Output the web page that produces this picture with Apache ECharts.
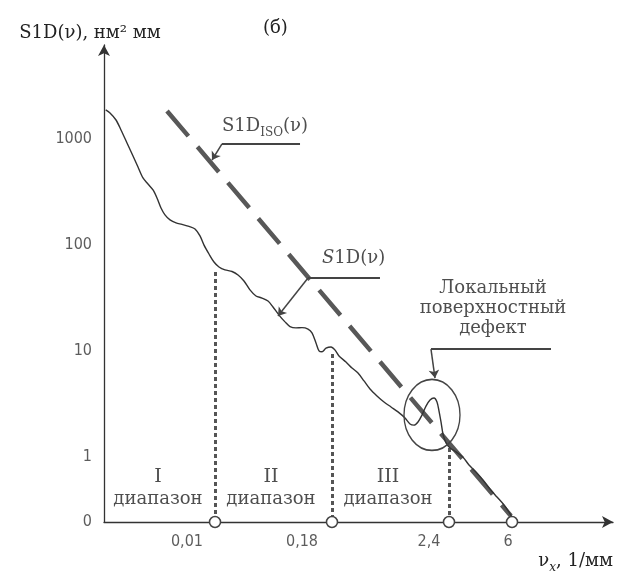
<!DOCTYPE html>
<html>
<head>
<meta charset="utf-8">
<script src="https://cdn.jsdelivr.net/npm/echarts@6/dist/echarts.min.js"></script>
<style>
  html, body { margin: 0; padding: 0; background: #fff; }
  #chart { width: 623px; height: 575px; }
</style>
</head>
<body>
<div id="chart"></div>
<script>
// schematic frequency axis (0..100 units), S1D on a log axis
const curveX = [0.33, 1.18, 2.36, 3.34, 4.52, 5.70, 6.68, 7.66, 8.64, 9.63,
  10.41, 11.20, 11.98, 12.97, 14.15, 15.32, 16.70, 17.88, 18.86, 19.65,
  20.63, 21.61, 22.59, 23.77, 25.15, 26.33, 27.50, 28.68, 29.86, 31.04,
  32.22, 33.20, 34.38, 35.56, 36.54, 37.72, 38.90, 40.08, 40.86, 41.65,
  42.24, 42.83, 43.61, 44.60, 45.38, 46.17, 47.54, 48.72, 49.90, 51.08,
  52.26, 53.63, 55.01, 56.39, 57.76, 59.14, 60.12, 60.90, 61.69, 62.48,
  63.26, 64.05, 64.83, 65.42, 65.82, 66.21, 66.60, 67.19, 67.98, 69.16,
  70.53, 71.71, 73.08, 74.46, 75.83, 77.21, 78.59, 79.57, 80.16]
const curveY = [1892, 1774, 1521, 1225, 923, 695, 547, 431, 378, 332,
  279, 224, 193, 173, 162, 157, 150, 142, 122, 100,
  82.4, 69.2, 62.1, 58.2, 56.3, 52.2, 45.8, 37.7, 33.0, 31.6,
  29.6, 26.0, 21.8, 18.8, 17.0, 16.5, 16.6, 16.1, 14.8, 11.9,
  10.0, 9.8, 10.6, 10.9, 10.2, 8.95, 7.85, 6.89, 6.18, 5.20,
  4.36, 3.75, 3.29, 2.95, 2.65, 2.32, 2.04, 1.99, 2.13, 2.48,
  3.01, 3.44, 3.59, 3.29, 2.70, 2.13, 1.64, 1.35, 1.21, 1.11,
  0.99, 0.835, 0.717, 0.602, 0.495, 0.416, 0.350, 0.300, 0.269]

const isoX = [12.38, 79.96]
const isoY = [1850, 0.275]

const yMin = 0.2415
const yMax = 7780
const yTickLabels = ['0', '1', '10', '100', '1000']
const yTickValues = [yMin, 1, 10, 100, 1000]

const xTickLabels = ['0,01', '0,18', '2,4', '6']
const xTickPos = [16.3, 38.9, 63.85, 79.4]

// range boundaries (circles on the axis) and the dotted lines above them
const boundaryX = [21.81, 44.79, 67.78, 80.16]
const dottedTop = [55.7, 9.35, 1.21]

const rangeNames = ['I', 'II', 'III']
const rangeX = [10.6, 32.8, 55.8]
const rangeY = 0.5

const serif = 'DejaVu Serif'
const narrow = '"Liberation Sans Narrow", "DejaVu Sans Condensed", "Liberation Sans", Arial, sans-serif'
const ink = '#222'
const grey = '#555'

const dom = echarts.init(document.getElementById('chart'))

const labelPoint = (pos, opts) => ({
  type: 'scatter',
  symbolSize: 0,
  silent: true,
  z: 10,
  data: pos,
  label: Object.assign({ show: true, color: ink, fontFamily: serif, fontSize: 18 }, opts)
})

const option = {
  animation: false,
  title: {
    text: '(б)',
    left: 258,
    top: 14,
    textStyle: { fontFamily: serif, fontSize: 18, fontWeight: 'normal', color: ink }
  },
  grid: { left: 104, right: 10, top: 45, bottom: 53 },
  xAxis: {
    type: 'value',
    min: 0,
    max: 100,
    name: '{a|ν}{s|x}{a|, 1/мм}',
    nameLocation: 'end',
    nameGap: 0,
    nameTextStyle: {
      align: 'right',
      verticalAlign: 'top',
      padding: [30, 0, 0, 0],
      rich: {
        a: { fontFamily: serif, fontSize: 18, color: ink, verticalAlign: 'bottom', padding: [0, 0, 4, 0] },
        s: { fontFamily: serif, fontSize: 12, fontStyle: 'italic', color: ink, verticalAlign: 'bottom' }
      }
    },
    axisLine: { lineStyle: { color: '#333', width: 1.3 }, symbol: ['none', 'arrow'], symbolSize: [9, 11] },
    axisTick: { show: false },
    axisLabel: { show: false },
    splitLine: { show: false }
  },
  yAxis: {
    type: 'log',
    logBase: 10,
    min: yMin,
    max: yMax,
    name: 'S1D(ν), нм² мм',
    nameLocation: 'end',
    nameGap: 3,
    nameTextStyle: { fontFamily: serif, fontSize: 18, color: ink, padding: [0, 28, 0, 0] },
    axisLine: { lineStyle: { color: '#333', width: 1.3 }, symbol: ['none', 'arrow'], symbolSize: [9, 11] },
    axisTick: { show: false },
    axisLabel: { show: false },
    splitLine: { show: false }
  },
  series: [
    {
      name: 'S1D',
      type: 'line',
      data: curveX.map((x, i) => [x, curveY[i]]),
      symbol: 'none',
      smooth: 0.3,
      lineStyle: { color: '#333', width: 1.4 },
      z: 4
    },
    {
      name: 'S1D ISO',
      type: 'line',
      data: isoX.map((x, i) => [x, isoY[i]]),
      symbol: 'none',
      lineStyle: { color: '#585858', width: 4.5, type: [33, 14], cap: 'butt' },
      z: 3
    },
    {
      type: 'lines',
      coordinateSystem: 'cartesian2d',
      silent: true,
      lineStyle: { color: grey, width: 3, type: [4, 3], opacity: 1 },
      data: dottedTop.map((top, i) => ({ coords: [[boundaryX[i], top], [boundaryX[i], yMin]] })),
      z: 2
    },
    {
      type: 'scatter',
      silent: true,
      symbol: 'circle',
      symbolSize: 11,
      itemStyle: { color: '#fff', borderColor: '#444', borderWidth: 1.5, opacity: 1 },
      data: boundaryX.map(x => [x, yMin]),
      z: 6
    },
    // y tick labels
    labelPoint(yTickValues.map((v, i) => [0, v, yTickLabels[i]]), {
      position: 'left', distance: 12, fontFamily: narrow, fontSize: 16, color: '#333',
      formatter: p => p.data[2]
    }),
    // x tick labels
    labelPoint(xTickPos.map((x, i) => [x, yMin, xTickLabels[i]]), {
      position: 'bottom', distance: 12, fontFamily: narrow, fontSize: 16, color: '#333',
      formatter: p => p.data[2]
    }),
    // range names
    labelPoint(rangeX.map((x, i) => [x, rangeY, rangeNames[i]]), {
      position: 'inside', align: 'center', verticalAlign: 'middle',
      formatter: p => '{r|' + p.data[2] + '}\n{w|диапазон}',
      rich: {
        r: { fontFamily: serif, fontSize: 19, color: ink, lineHeight: 22, align: 'center' },
        w: { fontFamily: serif, fontSize: 18, color: ink, lineHeight: 22, align: 'center' }
      }
    }),
    // leader lines
    {
      type: 'lines',
      coordinateSystem: 'cartesian2d',
      silent: true,
      lineStyle: { color: '#444', width: 2, opacity: 1 },
      data: [
        { coords: [[23.18, 903], [38.51, 903]] },
        { coords: [[40.08, 48.9], [54.22, 48.9]] },
        { coords: [[64.24, 10.4], [87.82, 10.4]] }
      ],
      z: 5
    },
    {
      type: 'lines',
      coordinateSystem: 'cartesian2d',
      silent: true,
      symbol: ['none', 'arrow'],
      symbolSize: 8,
      lineStyle: { color: '#444', width: 1.5, opacity: 1 },
      data: [
        { coords: [[23.18, 903], [21.22, 637]] },
        { coords: [[40.08, 48.9], [34.18, 21.4]] },
        { coords: [[64.24, 10.4], [65.03, 5.54]] }
      ],
      z: 5
    },
    // local defect ellipse
    {
      type: 'scatter',
      silent: true,
      symbol: 'circle',
      symbolSize: [56, 71],
      itemStyle: { color: 'rgba(0,0,0,0)', borderColor: '#444', borderWidth: 1.5, opacity: 1 },
      data: [[64.44, 2.48]],
      z: 5
    },
    // annotation texts
    labelPoint([[23.18, 1279]], {
      position: 'right', distance: 0,
      formatter: '{a|S1D}{s|ISO}{a|(ν)}',
      rich: {
        a: { fontFamily: serif, fontSize: 18, color: ink, verticalAlign: 'bottom', padding: [0, 0, 4, 0] },
        s: { fontFamily: serif, fontSize: 12, color: ink, verticalAlign: 'bottom' }
      }
    }),
    labelPoint([[42.83, 75.5]], {
      position: 'right', distance: 0,
      formatter: '{i|S}{a|1D(ν)}',
      rich: {
        i: { fontFamily: serif, fontSize: 18, fontStyle: 'italic', color: ink },
        a: { fontFamily: serif, fontSize: 18, color: ink }
      }
    }),
    labelPoint([[76.42, 25.4]], {
      position: 'inside', align: 'center', verticalAlign: 'middle', lineHeight: 20,
      formatter: 'Локальный\nповерхностный\nдефект'
    })
  ]
}

dom.setOption(option)
window.addEventListener('resize', () => dom.resize())
</script>
</body>
</html>
